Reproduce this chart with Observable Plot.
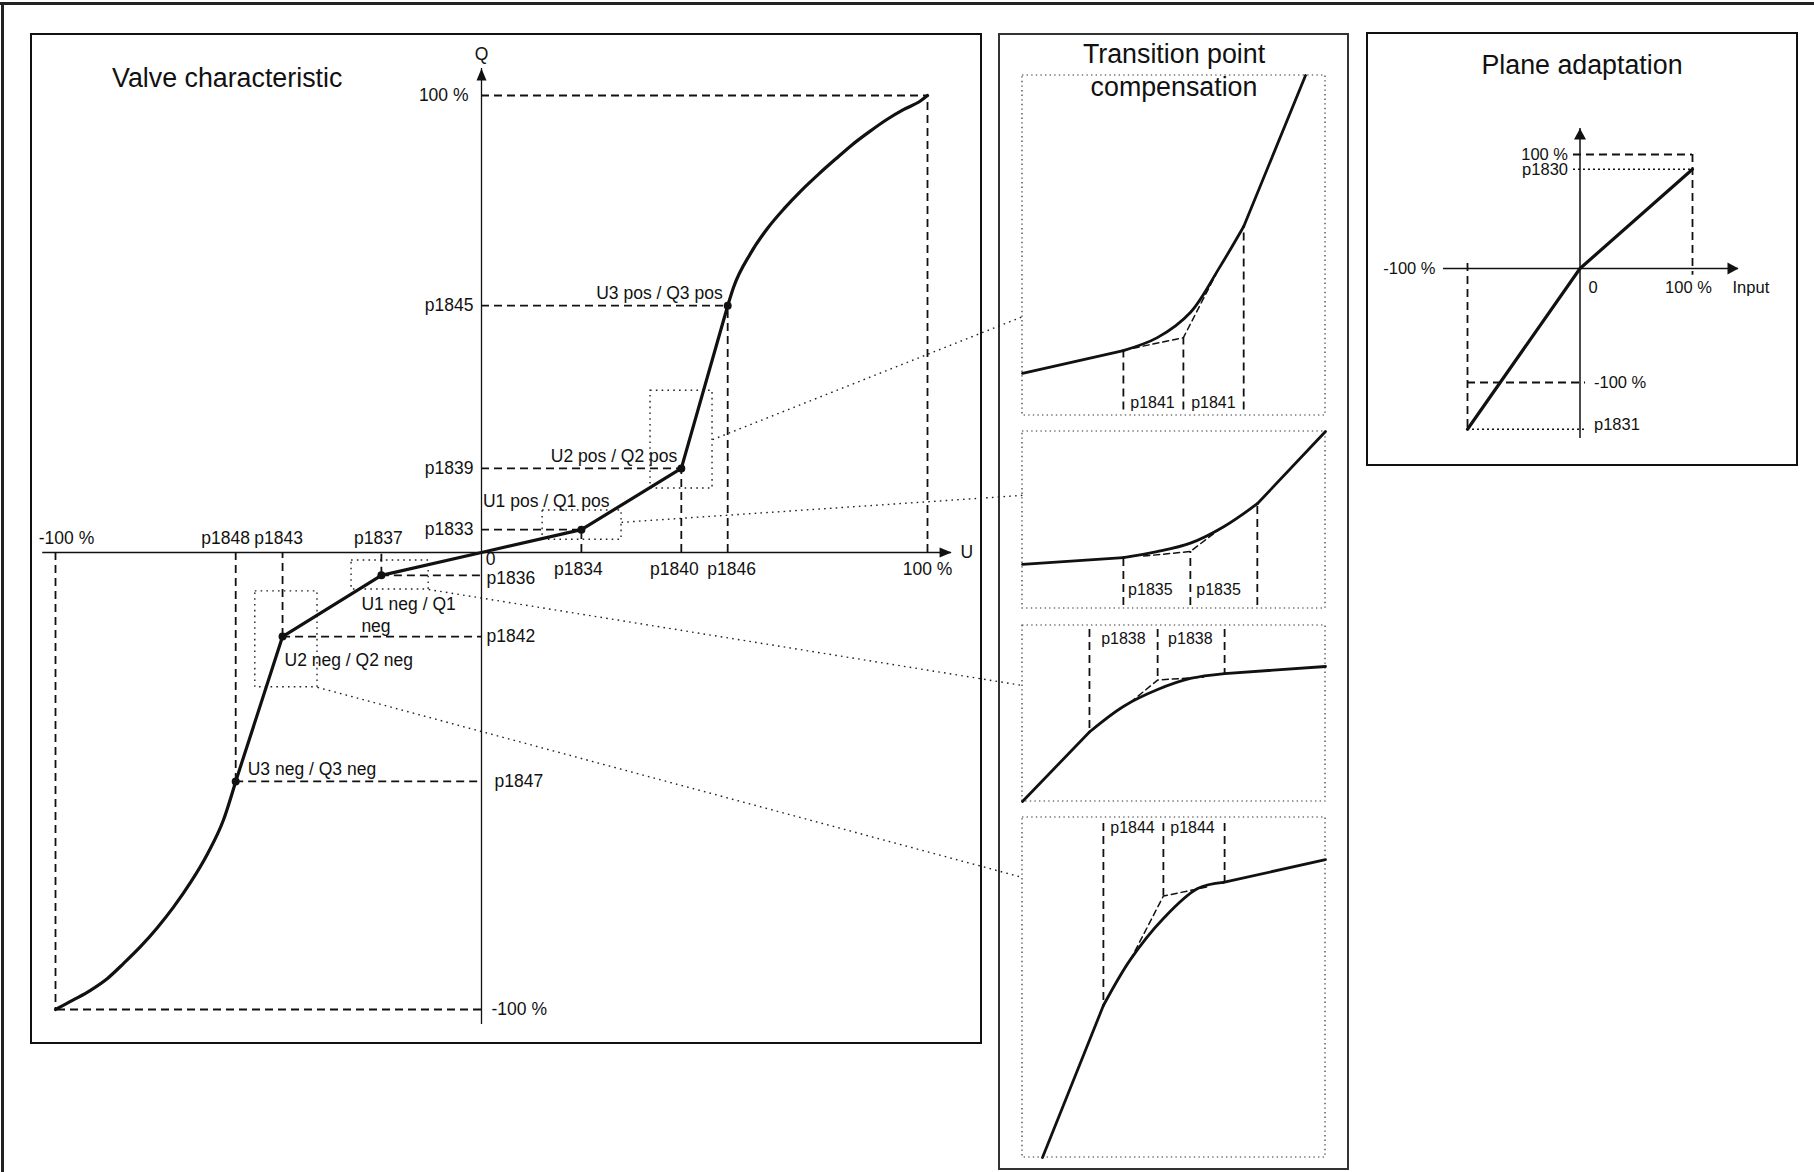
<!DOCTYPE html>
<html>
<head>
<meta charset="utf-8">
<script src="https://cdn.jsdelivr.net/npm/d3@7"></script>
<script src="https://cdn.jsdelivr.net/npm/@observablehq/plot@0.6"></script>
<style>
html, body { margin: 0; padding: 0; background: #fff; }
#stage { position: relative; width: 1814px; height: 1172px; overflow: hidden;
  font-family: "Liberation Sans", Arial, Helvetica, sans-serif; color: #111; background: #fff; }
#stage > svg, #stage > figure { position: absolute; left: 0; top: 0; margin: 0; }
.edge-top { position: absolute; left: 0; top: 2px; width: 1814px; height: 3px; background: #222; }
.edge-left { position: absolute; left: 1px; top: 2px; width: 3px; height: 1170px; background: #222; }
.panel { position: absolute; box-sizing: border-box; border: 2px solid #111; }
.title { position: absolute; white-space: nowrap; color: #111; }
</style>
</head>
<body>
<div id="stage">
  <div class="edge-top"></div>
  <div class="edge-left"></div>
  <div class="panel" style="left:30px;top:33px;width:952px;height:1011px;"></div>
  <div class="panel" style="left:998px;top:33px;width:351px;height:1137px;border-color:#333;"></div>
  <div class="panel" style="left:1366px;top:32px;width:432px;height:434px;"></div>
</div>
<script>
// ---------------- DATA ----------------
// Valve characteristic: break points (U in %, Q in %)
const posParamU = ["p1834", "p1840", "p1846"];
const posU = [22.4, 44.8, 55.2];
const posParamQ = ["p1833", "p1839", "p1845"];
const posQ = [5.0, 18.4, 54.0];
const posPointLabels = ["U1 pos / Q1 pos", "U2 pos / Q2 pos", "U3 pos / Q3 pos"];

const negParamU = ["p1837", "p1843", "p1848"];
const negU = [-23.5, -46.7, -57.7];
const negParamQ = ["p1836", "p1842", "p1847"];
const negQ = [-5.0, -18.4, -50.1];
const negPointLabels = ["U1 neg / Q1\nneg", "U2 neg / Q2 neg", "U3 neg / Q3 neg"];

// full-scale end points
const endU = [-100, 100];
const endQ = [-100, 100];
const endLabels = ["-100 %", "100 %"];

// curved end sections
const upperCurveU = [55.2, 56.5, 60.3, 64.1, 67.9, 71.7, 75.6, 79.4, 83.2, 87.0, 90.8, 94.6, 98.4, 100];
const upperCurveQ = [54.0, 58.0, 65.4, 70.9, 75.3, 79.2, 82.8, 86.1, 89.3, 92.1, 94.7, 96.9, 98.8, 100];
const lowerCurveU = [-100, -95.8, -91.8, -87.8, -84.0, -80.0, -76.1, -72.3, -68.3, -64.3, -60.6, -57.7];
const lowerCurveQ = [-100, -97.9, -95.8, -93.2, -89.9, -86.2, -82.1, -77.6, -72.2, -65.9, -58.6, -50.1];

// axis extents
const uAxisExtent = [-103, 105.4];
const qAxisExtent = [-103.3, 105.9];

// dotted detail windows (U1,U2,Q1,Q2)
const detailU1 = [13.7, 37.9, -30.5, -53.1];
const detailU2 = [31.4, 51.8, -12.4, -38.5];
const detailQ1 = [2.8, 14.0, -1.75, -8.5];
const detailQ2 = [9.2, 35.4, -8.1, -29.5];
// dotted connectors to the transition panel
const connFromU = [51.8, 31.4, -12.4, -38.5];
const connFromQ = [24.7, 6.6, -8.1, -29.5];
const connToU = [121.3, 121.3, 121.3, 121.3];
const connToQ = [51.6, 12.5, -29.1, -71.1];

// Transition point compensation details (local 0..100 coordinates)
const t1InX = [0, 33.3], t1InY = [12.4, 19.1];
const t1ArcX = [33.3, 44.5, 55.4, 64.8, 73.0], t1ArcY = [19.1, 22.9, 30.3, 43.2, 55.6];
const t1OutX = [73.0, 93.4], t1OutY = [55.6, 100];
const t1CornerX = [36.6, 53.1, 64.8], t1CornerY = [19.8, 22.9, 43.2];
const t1GuideX = [33.3, 53.1, 73.0], t1GuideY = [19.1, 22.9, 55.6];
const t1Param = ["p1841", "p1841"], t1ParamX = [42.9, 63.0];

const t2InX = [0, 33.3], t2InY = [24.9, 28.8];
const t2ArcX = [33.3, 44.4, 55.4, 66.4, 77.5], t2ArcY = [28.8, 32.1, 36.9, 46.2, 59.2];
const t2OutX = [77.5, 100], t2OutY = [59.2, 100];
const t2CornerX = [40.0, 55.4, 65.3], t2CornerY = [29.6, 32.2, 45.2];
const t2GuideX = [33.3, 55.4, 77.5], t2GuideY = [28.8, 32.2, 59.2];
const t2Param = ["p1835", "p1835"], t2ParamX = [42.2, 64.7];

const t3InX = [0, 22.1], t3InY = [0, 39.5];
const t3ArcX = [22.1, 33.3, 44.6, 55.4, 66.7], t3ArcY = [39.5, 54.0, 63.6, 69.9, 72.7];
const t3OutX = [66.7, 100], t3OutY = [72.7, 76.7];
const t3CornerX = [35.6, 44.6, 59.8], t3CornerY = [56.3, 69.0, 70.7];
const t3GuideX = [22.1, 44.6, 66.7], t3GuideY = [39.5, 69.0, 72.7];
const t3Param = ["p1838", "p1838"], t3ParamX = [33.3, 55.4];

const t4InX = [6.6, 26.7], t4InY = [0, 44.7];
const t4ArcX = [26.7, 35.6, 46.5, 57.8, 66.3], t4ArcY = [44.7, 58.2, 70.3, 79.1, 80.9];
const t4OutX = [66.3, 100], t4OutY = [80.9, 87.6];
const t4CornerX = [35.6, 46.5, 61.1], t4CornerY = [58.1, 76.9, 79.6];
const t4GuideX = [26.7, 46.5, 66.7], t4GuideY = [44.7, 76.9, 80.9];
const t4Param = ["p1844", "p1844"], t4ParamX = [36.3, 56.1];

// Plane adaptation
const planeInput = [-100, 0, 100];
const planeOutput = [-141, 0, 87];
const planeParamLabels = ["p1831", "p1830"];
const planeXExtent = [-121.3, 140.9];
const planeYExtent = [-149.1, 122.8];

// ---------------- DRAWING ----------------
const FONT = '"Liberation Sans", Arial, Helvetica, sans-serif';
const INK = "#111";
const W = 1814, H = 1172;
const baseStyle = {background: "transparent", overflow: "visible", fontFamily: FONT, color: INK, maxWidth: "none"};

function arrowHead(len, wid) {
  return {draw(ctx) { ctx.moveTo(0, 0); ctx.lineTo(-wid / 2, len); ctx.lineTo(wid / 2, len); ctx.closePath(); }};
}

const dash = {stroke: INK, strokeWidth: 1.8, strokeDasharray: "8,5"};
const dotted = {stroke: "#222", strokeWidth: 1.4, strokeDasharray: "1.6,4.2"};
const fineDotted = {stroke: "#333", strokeWidth: 1.2, strokeDasharray: "1.4,3.2"};
const FS = 17.5;
const txt = {fill: INK, fontSize: FS};
const solid = {stroke: INK, strokeWidth: 3.2, strokeLinejoin: "round", strokeLinecap: "round"};

const pos = posU.map((u, i) => ({u, q: posQ[i], pu: posParamU[i], pq: posParamQ[i], lab: posPointLabels[i]}));
const neg = negU.map((u, i) => ({u, q: negQ[i], pu: negParamU[i], pq: negParamQ[i], lab: negPointLabels[i]}));
const middle = [...neg.slice().reverse(), {u: 0, q: 0}, ...pos];
const lowerPts = lowerCurveU.map((u, i) => ({u, q: lowerCurveQ[i]}));
const upperPts = upperCurveU.map((u, i) => ({u, q: upperCurveQ[i]}));
const details = detailU1.map((u1, i) => ({u1, u2: detailU2[i], q1: detailQ1[i], q2: detailQ2[i]}));
const connectors = connFromU.map((u1, i) => ({u1, q1: connFromQ[i], u2: connToU[i], q2: connToQ[i]}));
const ends = endU.map((u, i) => ({u, q: endQ[i], lab: endLabels[i]}));

const posBelowDx = [-3, -7, 4];
const negAboveDx = [-3, -4, -10];
const negRightDx = [5, 5, 13];
const negRightDy = [3, 0, 0];
const posLabelOff = [[28, -28], [-4, -12], [-5, -12]];
const negLabelOff = [[-20, 38.5], [2, 22], [12, -13]];

// the drawing's negative U half is slightly narrower than the positive half
const NEG_U = 426 / 446;
const mainChart = Plot.plot({
  width: W, height: H, margin: 0,
  x: {type: "linear", domain: [-100 * NEG_U, 100], range: [55, 927], transform: u => (u < 0 ? u * NEG_U : u), axis: null},
  y: {type: "linear", domain: [-100, 100], range: [1009, 95], axis: null},
  style: baseStyle,
  marks: [
    Plot.rect(details, {x1: "u1", x2: "u2", y1: "q1", y2: "q2", fill: "none", ...dotted}),
    Plot.link(connectors, {x1: "u1", y1: "q1", x2: "u2", y2: "q2", ...dotted}),
    // guides
    Plot.ruleY(pos, {y: "q", x1: 0, x2: "u", ...dash}),
    Plot.ruleX(pos, {x: "u", y1: 0, y2: "q", ...dash}),
    Plot.ruleY(neg, {y: "q", x1: "u", x2: 0, ...dash}),
    Plot.ruleX(neg, {x: "u", y1: "q", y2: 0, ...dash}),
    Plot.ruleY(ends, {y: "q", x1: 0, x2: "u", ...dash}),
    Plot.ruleX(ends, {x: "u", y1: 0, y2: "q", ...dash}),
    // axes
    Plot.ruleY([0], {y: 0, x1: uAxisExtent[0], x2: uAxisExtent[1], stroke: INK, strokeWidth: 1.3}),
    Plot.ruleX([0], {x: 0, y1: qAxisExtent[0], y2: qAxisExtent[1], stroke: INK, strokeWidth: 1.3}),
    Plot.dot([0], {x: uAxisExtent[1], y: 0, symbol: arrowHead(12, 10), rotate: 90, fill: INK, stroke: "none"}),
    Plot.dot([0], {x: 0, y: qAxisExtent[1], symbol: arrowHead(12, 10), rotate: 0, fill: INK, stroke: "none"}),
    // characteristic
    Plot.line(lowerPts, {x: "u", y: "q", curve: "monotone-x", ...solid}),
    Plot.line(middle, {x: "u", y: "q", ...solid}),
    Plot.line(upperPts, {x: "u", y: "q", curve: "monotone-x", ...solid}),
    Plot.dot([...pos, ...neg], {x: "u", y: "q", r: 4, fill: INK, stroke: "none"}),
    // axis names
    Plot.text(["U"], {x: uAxisExtent[1], y: 0, text: d => d, textAnchor: "start", dx: 9, ...txt}),
    Plot.text(["Q"], {x: 0, y: qAxisExtent[1], text: d => d, dy: -14, ...txt}),
    Plot.text(["0"], {x: 0, y: 0, text: d => d, dx: 9, dy: 7, ...txt}),
    // Q labels on the left of the axis
    Plot.text(pos, {x: 0, y: "q", text: "pq", textAnchor: "end", dx: -8, ...txt}),
    Plot.text([ends[1]], {x: 0, y: "q", text: "lab", textAnchor: "end", dx: -13, ...txt}),
    // Q labels on the right of the axis
    ...neg.map((d, i) => Plot.text([d], {x: 0, y: "q", text: "pq", textAnchor: "start", dx: negRightDx[i], dy: negRightDy[i], ...txt})),
    Plot.text([ends[0]], {x: 0, y: "q", text: "lab", textAnchor: "start", dx: 10, ...txt}),
    // U labels below the axis
    ...pos.map((d, i) => Plot.text([d], {x: "u", y: 0, text: "pu", dx: posBelowDx[i], dy: 17, ...txt})),
    Plot.text([ends[1]], {x: "u", y: 0, text: "lab", dy: 17, ...txt}),
    // U labels above the axis
    ...neg.map((d, i) => Plot.text([d], {x: "u", y: 0, text: "pu", dx: negAboveDx[i], dy: -14, ...txt})),
    Plot.text([ends[0]], {x: "u", y: 0, text: "lab", dx: 11, dy: -14, ...txt}),
    // point names
    ...pos.map((d, i) => Plot.text([d], {x: "u", y: "q", text: "lab", textAnchor: "end", dx: posLabelOff[i][0], dy: posLabelOff[i][1], ...txt})),
    ...neg.map((d, i) => Plot.text([d], {x: "u", y: "q", text: "lab", textAnchor: "start", lineHeight: 1.24, dx: negLabelOff[i][0], dy: negLabelOff[i][1], ...txt}))
  ]
});

// ---- transition details ----
const detailSpecs = [
  {frame: [1022, 1325, 75, 415], base: 1.6, labelY: 3.8,
   inX: t1InX, inY: t1InY, arcX: t1ArcX, arcY: t1ArcY, outX: t1OutX, outY: t1OutY,
   cX: t1CornerX, cY: t1CornerY, gX: t1GuideX, gY: t1GuideY, p: t1Param, pX: t1ParamX},
  {frame: [1022, 1325, 431, 608], base: 1.7, labelY: 10.5,
   inX: t2InX, inY: t2InY, arcX: t2ArcX, arcY: t2ArcY, outX: t2OutX, outY: t2OutY,
   cX: t2CornerX, cY: t2CornerY, gX: t2GuideX, gY: t2GuideY, p: t2Param, pX: t2ParamX},
  {frame: [1022, 1325, 625, 801], base: 97.7, labelY: 92.6,
   inX: t3InX, inY: t3InY, arcX: t3ArcX, arcY: t3ArcY, outX: t3OutX, outY: t3OutY,
   cX: t3CornerX, cY: t3CornerY, gX: t3GuideX, gY: t3GuideY, p: t3Param, pX: t3ParamX},
  {frame: [1022, 1325, 817, 1157], base: 98.2, labelY: 97.0,
   inX: t4InX, inY: t4InY, arcX: t4ArcX, arcY: t4ArcY, outX: t4OutX, outY: t4OutY,
   cX: t4CornerX, cY: t4CornerY, gX: t4GuideX, gY: t4GuideY, p: t4Param, pX: t4ParamX}
];

const detailCharts = detailSpecs.map(s => Plot.plot({
  width: W, height: H, margin: 0,
  x: {domain: [0, 100], range: [s.frame[0], s.frame[1]], axis: null},
  y: {domain: [0, 100], range: [s.frame[3], s.frame[2]], axis: null},
  style: baseStyle,
  marks: [
    Plot.rect([0], {x1: 0, x2: 100, y1: 0, y2: 100, fill: "none", ...fineDotted}),
    Plot.ruleX(s.gX, {x: s.gX, y1: s.base, y2: s.gY, ...dash}),
    Plot.line(s.cX, {x: s.cX, y: s.cY, stroke: INK, strokeWidth: 1.5, strokeDasharray: "6,4"}),
    Plot.line(s.inX, {x: s.inX, y: s.inY, ...solid, strokeWidth: 2.8}),
    Plot.line(s.arcX, {x: s.arcX, y: s.arcY, curve: "catmull-rom", ...solid, strokeWidth: 2.8}),
    Plot.line(s.outX, {x: s.outX, y: s.outY, ...solid, strokeWidth: 2.8}),
    Plot.text(s.pX, {x: s.pX, y: s.labelY, text: s.p, fill: INK, fontSize: 16})
  ]
}));

// ---- plane adaptation ----
const planeDash = {stroke: INK, strokeWidth: 1.8, strokeDasharray: "8,5"};
const planeDot = {stroke: INK, strokeWidth: 1.6, strokeDasharray: "2,3"};
const ptxt = {fill: INK, fontSize: 16.5};
const planeChart = Plot.plot({
  width: W, height: H, margin: 0,
  x: {domain: [-100, 100], range: [1467, 1692], axis: null},
  y: {domain: [-100, 100], range: [382, 154], axis: null},
  style: baseStyle,
  marks: [
    Plot.ruleY([100], {y: 100, x1: -5.8, x2: 100, ...planeDash}),
    Plot.ruleX([100], {x: 100, y1: 100, y2: -6, ...planeDash}),
    Plot.ruleY([planeOutput[2]], {y: planeOutput[2], x1: -5.8, x2: planeInput[2], ...planeDot}),
    Plot.ruleY([-100], {y: -100, x1: -100, x2: 4.9, ...planeDash}),
    Plot.ruleX([-100], {x: -100, y1: 4.4, y2: planeOutput[0], ...planeDash}),
    Plot.ruleY([planeOutput[0]], {y: planeOutput[0], x1: planeInput[0], x2: 4.9, ...planeDot}),
    Plot.ruleY([0], {x1: planeXExtent[0], x2: planeXExtent[1], stroke: INK, strokeWidth: 1.5}),
    Plot.ruleX([0], {y1: planeYExtent[0], y2: planeYExtent[1], stroke: INK, strokeWidth: 1.5}),
    Plot.dot([0], {x: planeXExtent[1], y: 0, symbol: arrowHead(11, 12), rotate: 90, fill: INK, stroke: "none"}),
    Plot.dot([0], {x: 0, y: planeYExtent[1], symbol: arrowHead(11, 12), rotate: 0, fill: INK, stroke: "none"}),
    Plot.line(planeInput, {x: planeInput, y: planeOutput, ...solid}),
    Plot.text(["-100 %"], {x: planeXExtent[0], y: 0, text: d => d, textAnchor: "end", dx: -8, ...ptxt}),
    Plot.text(["0"], {x: 0, y: 0, text: d => d, dx: 13, dy: 19, ...ptxt}),
    Plot.text(["100 %"], {x: 100, y: 0, text: d => d, dx: -4, dy: 19, ...ptxt}),
    Plot.text(["Input"], {x: planeXExtent[1], y: 0, text: d => d, textAnchor: "start", dx: -6, dy: 19, ...ptxt}),
    Plot.text(["100 %"], {x: 0, y: 100, text: d => d, textAnchor: "end", dx: -12, ...ptxt}),
    Plot.text([planeParamLabels[1]], {x: 0, y: planeOutput[2], text: d => d, textAnchor: "end", dx: -12, ...ptxt}),
    Plot.text(["-100 %"], {x: 0, y: -100, text: d => d, textAnchor: "start", dx: 14, ...ptxt}),
    Plot.text([planeParamLabels[0]], {x: 0, y: planeOutput[0], text: d => d, textAnchor: "start", dx: 14, dy: -5, ...ptxt})
  ]
});

const stage = document.getElementById("stage");
[mainChart, ...detailCharts, planeChart].forEach(c => stage.appendChild(c));

// titles
function addTitle(html, css) {
  const d = document.createElement("div");
  d.className = "title";
  d.innerHTML = html;
  Object.assign(d.style, css);
  stage.appendChild(d);
}
addTitle("Valve characteristic", {left: "112px", top: "63px", fontSize: "26.8px", lineHeight: "30px"});
addTitle("Transition point<br>compensation", {left: "1024px", top: "38px", width: "300px", textAlign: "center", fontSize: "26.8px", lineHeight: "33px"});
addTitle("Plane adaptation", {left: "1432px", top: "49px", width: "300px", textAlign: "center", fontSize: "26.8px", lineHeight: "32px"});
</script>
</body>
</html>
